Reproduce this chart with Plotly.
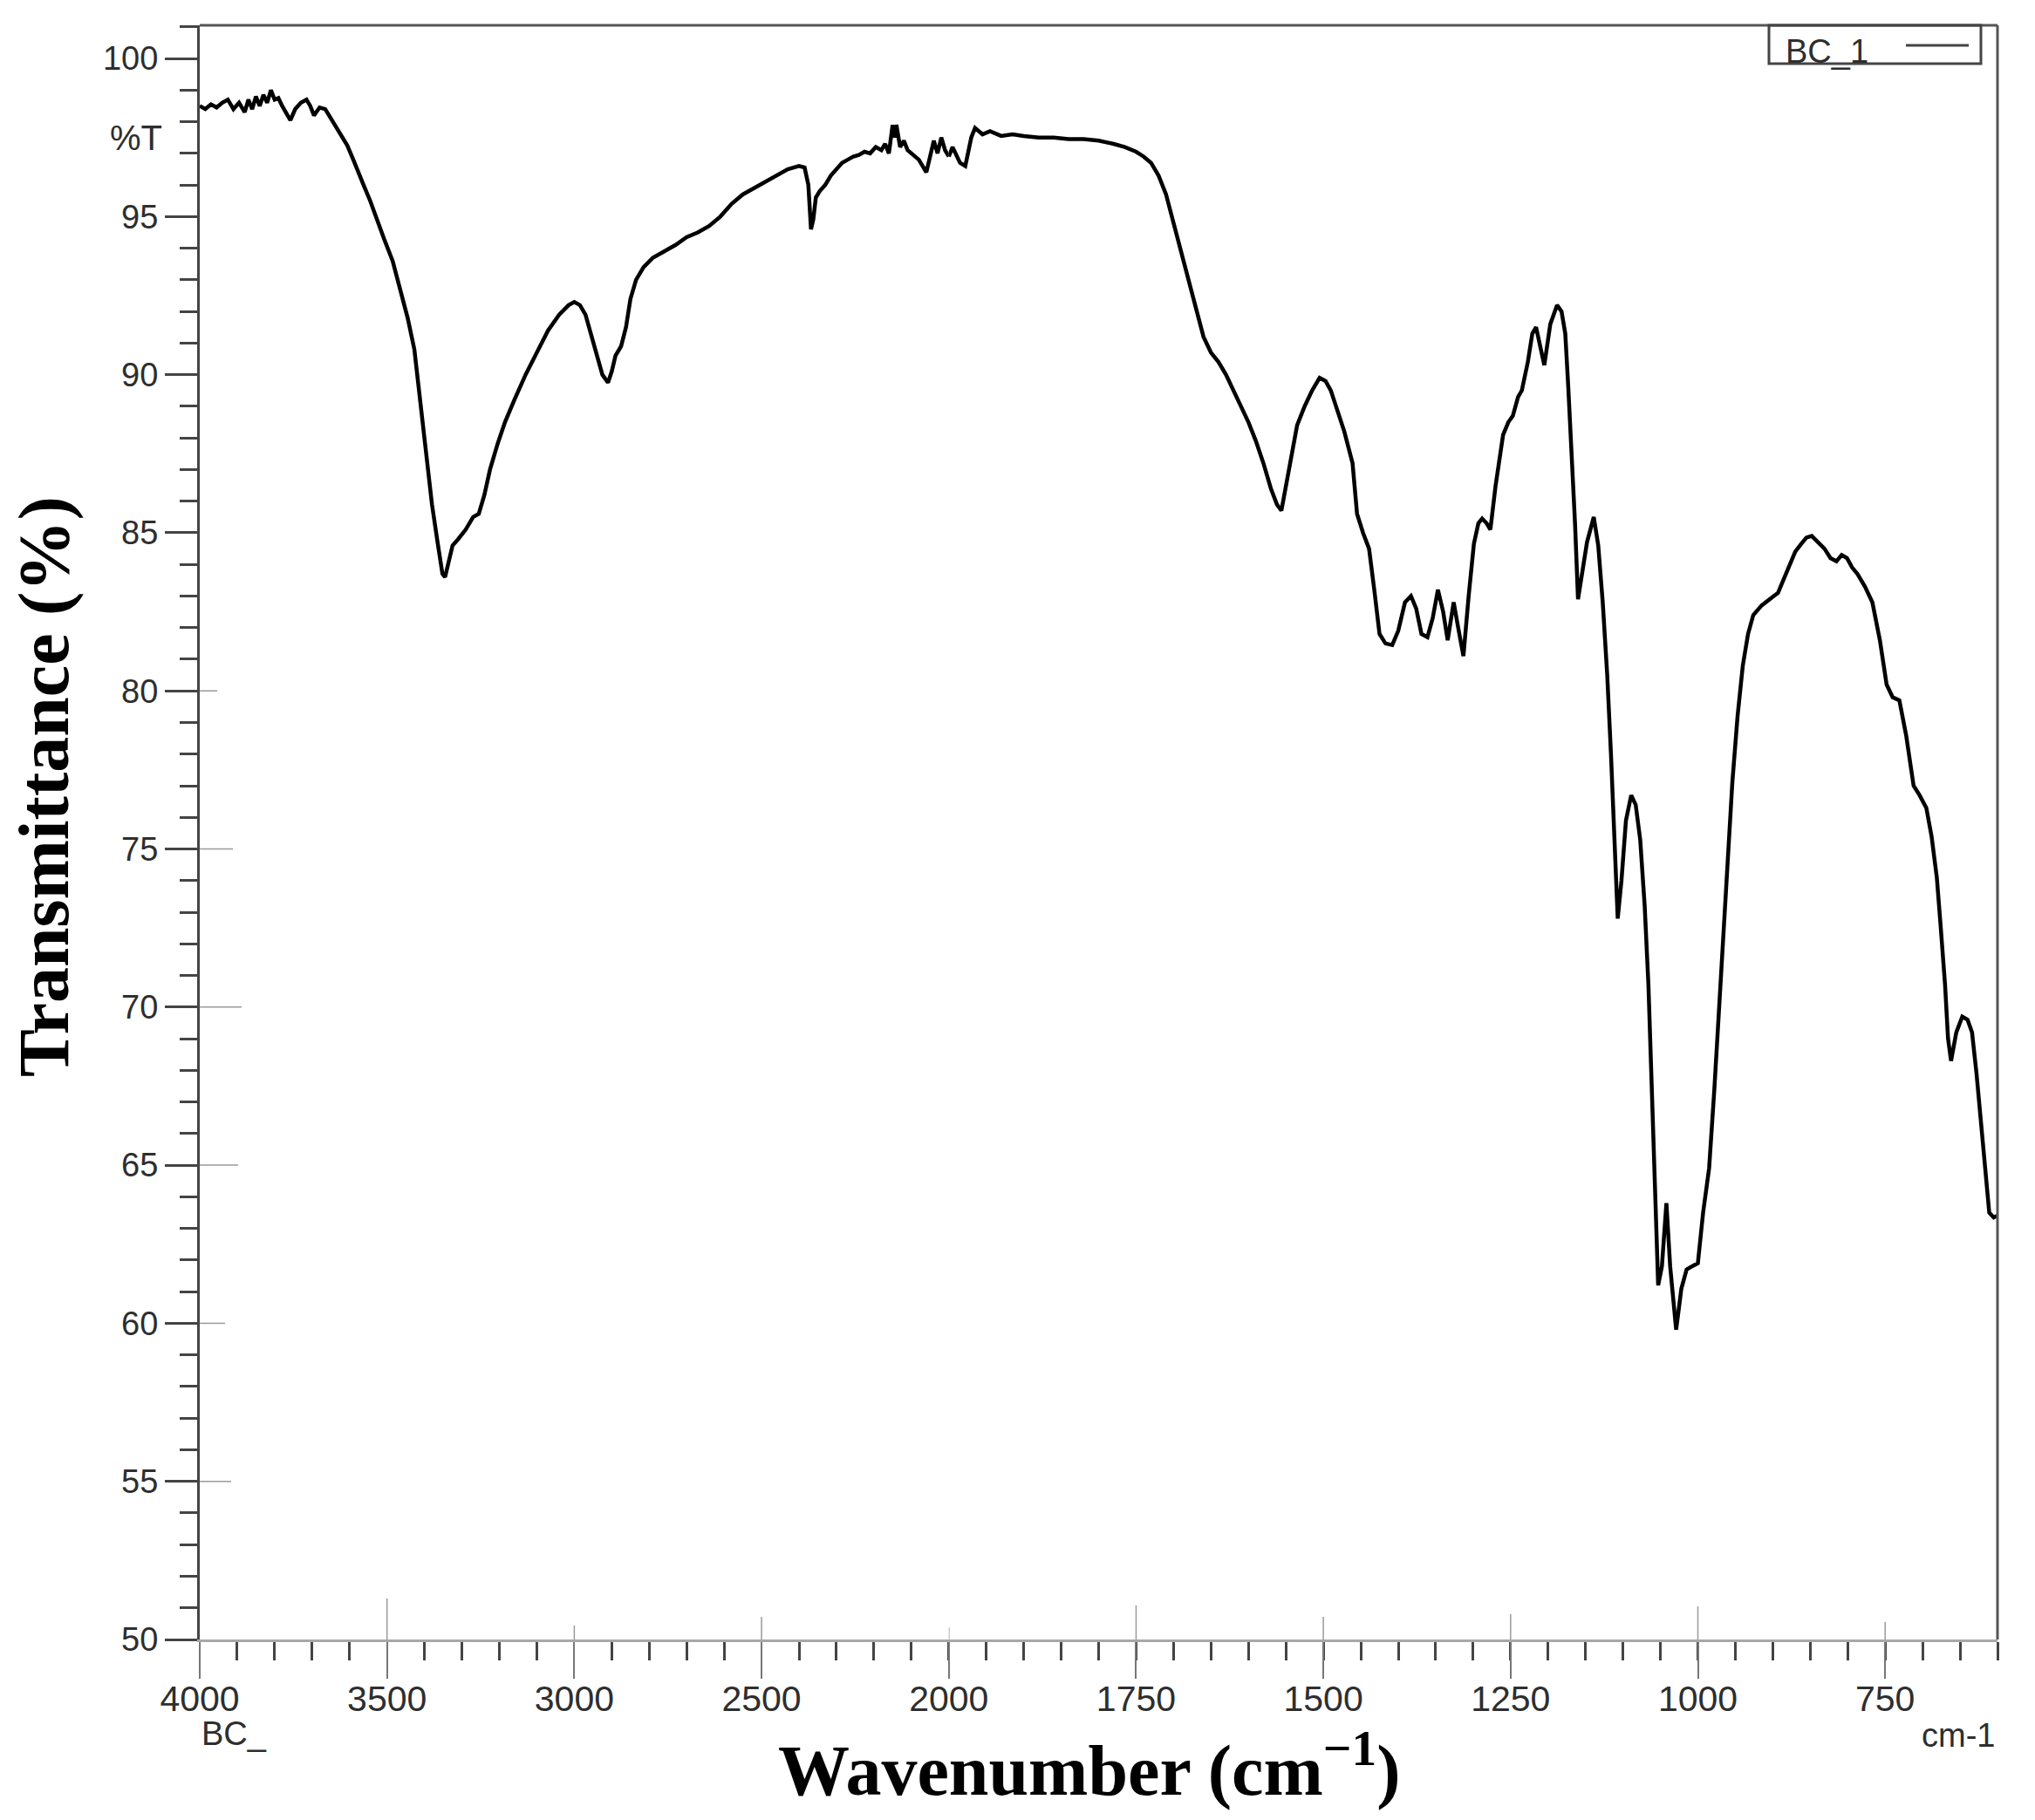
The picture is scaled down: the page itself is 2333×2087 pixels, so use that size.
import plotly.graph_objects as go

# FTIR spectrum of sample BC_1
wavenumber = [
    4000, 3985, 3970, 3955, 3940, 3925, 3910, 3895, 3880, 3870, 3860, 3850, 3840, 3830,
    3820, 3810, 3800, 3790, 3780, 3770, 3758, 3745, 3730, 3715, 3705, 3695, 3680, 3665,
    3650, 3640, 3620, 3606, 3590, 3575, 3561, 3545, 3530, 3508, 3485, 3464, 3445, 3427,
    3410, 3395, 3380, 3365, 3352, 3345, 3338, 3325, 3310, 3290, 3270, 3255, 3240, 3225,
    3205, 3185, 3160, 3130, 3100, 3070, 3040, 3015, 3000, 2985, 2970, 2955, 2940, 2925,
    2910, 2900, 2890, 2875, 2862, 2850, 2835, 2815, 2790, 2760, 2730, 2700, 2670, 2640,
    2610, 2580, 2550, 2520, 2490, 2460, 2430, 2400, 2385, 2375, 2368, 2362, 2355, 2345,
    2330, 2315, 2300, 2285, 2270, 2255, 2240, 2225, 2210, 2195, 2180, 2170, 2160, 2150,
    2145, 2140, 2130, 2120, 2110, 2100, 2090, 2080, 2070, 2060, 2050, 2040, 2030, 2020,
    2010, 2000,
    1995, 1985, 1978, 1970, 1965, 1955, 1945, 1930, 1915, 1900, 1880, 1860, 1840, 1820,
    1800, 1780, 1765, 1750, 1740, 1730, 1720, 1710, 1700, 1690, 1680, 1670, 1660, 1650,
    1640, 1630, 1620, 1610, 1600, 1590, 1580, 1570, 1562, 1556, 1550, 1542, 1535, 1525,
    1515, 1505, 1497, 1490, 1482, 1472, 1461, 1455, 1447, 1439, 1432, 1425, 1417, 1408,
    1400, 1391, 1383, 1376, 1369, 1361, 1354, 1347, 1340, 1334, 1330, 1326, 1320, 1313,
    1306, 1299, 1293, 1288, 1282, 1277, 1270, 1260, 1253, 1247, 1240, 1235, 1227, 1221,
    1216, 1210, 1205, 1197, 1188, 1182, 1177, 1173, 1169, 1164, 1160, 1155, 1148, 1139,
    1133, 1127, 1121, 1116, 1111, 1107, 1102, 1096, 1089, 1083, 1077, 1071, 1066, 1060,
    1053, 1048, 1042, 1037, 1029, 1022, 1015, 1008, 1000, 993, 985, 978, 971, 963,
    954, 947, 940, 933, 926, 915, 904, 893, 886, 879, 870, 862, 855, 848,
    840, 831, 823, 815, 808, 801, 794, 787, 777, 767, 757, 748, 740, 731,
    722, 712, 704, 695, 688, 681, 676, 670, 666, 662, 655, 647, 640, 634,
    628, 623, 617, 611, 605, 600,
]
transmittance = [
    98.5, 98.4, 98.55, 98.45, 98.6, 98.7, 98.4, 98.6, 98.3, 98.7, 98.4, 98.8, 98.5, 98.85,
    98.6, 99.0, 98.7, 98.75, 98.5, 98.3, 98.05, 98.4, 98.6, 98.7, 98.5, 98.2, 98.45, 98.4,
    98.1, 97.95, 97.5, 97.25, 96.8, 96.4, 95.95, 95.5, 95.0, 94.3, 93.6, 92.7, 91.8, 90.8,
    89.0, 87.3, 85.9, 84.7, 83.7, 83.6, 84.0, 84.6, 84.8, 85.1, 85.5, 85.6, 86.2, 87.0,
    87.8, 88.5, 89.2, 90.0, 90.7, 91.4, 91.9, 92.2, 92.3, 92.2, 91.9, 91.3, 90.6, 90.0,
    89.75, 90.1, 90.6, 90.9, 91.5, 92.4, 93.0, 93.4, 93.7, 93.9, 94.1, 94.35, 94.5, 94.7,
    95.0, 95.4, 95.7, 95.9, 96.1, 96.3, 96.5, 96.6, 96.55, 96.0, 94.6, 94.9, 95.6, 95.8,
    96.0, 96.3, 96.5, 96.7, 96.8, 96.9, 96.95, 97.05, 97.0, 97.2, 97.1, 97.3, 97.0, 97.9,
    97.5, 97.9, 97.2, 97.4, 97.1, 97.0, 96.9, 96.8, 96.6, 96.4, 96.9, 97.4, 97.0, 97.5,
    97.1, 96.9,
    97.2, 96.7, 96.6, 97.5, 97.8, 97.6, 97.7, 97.55, 97.6, 97.55, 97.5, 97.5, 97.45, 97.45,
    97.4, 97.3, 97.2, 97.05, 96.9, 96.7, 96.3, 95.7, 94.8, 93.8, 93.0, 92.1, 91.2, 90.7,
    90.4, 90.0, 89.5, 89.0, 88.5, 87.9, 87.2, 86.4, 85.9, 85.7, 86.5, 87.5, 88.4, 89.0,
    89.5, 89.9, 89.8, 89.5, 88.9, 88.2, 87.2, 85.6, 85.0, 84.5, 83.2, 81.8, 81.5, 81.45,
    81.9, 82.8, 83.0, 82.6, 81.8, 81.7, 82.3, 83.2, 82.5, 81.6, 82.2, 82.8, 82.0, 81.1,
    83.0, 84.65, 85.3, 85.45, 85.3, 85.1, 86.5, 88.1, 88.5, 88.7, 89.3, 89.5, 90.4, 91.3,
    91.5, 90.8, 90.3, 91.6, 92.2, 92.0, 91.3, 89.6, 87.9, 85.3, 82.9, 83.6, 84.7, 85.5,
    84.6, 82.8, 80.5, 78.0, 75.3, 72.8, 74.0, 75.9, 76.7, 76.4, 75.3, 73.2, 70.7, 66.0,
    61.2, 61.8, 63.8, 61.8, 59.8, 61.1, 61.7, 61.8, 61.9, 63.5, 64.9, 67.4, 70.2, 73.8,
    77.1, 79.2, 80.8, 81.8, 82.4, 82.7, 82.9, 83.1, 83.5, 83.9, 84.4, 84.65, 84.85, 84.9,
    84.7, 84.5, 84.2, 84.1, 84.3, 84.2, 83.9, 83.7, 83.3, 82.8, 81.6, 80.2, 79.8, 79.7,
    78.6, 77.0, 76.7, 76.3, 75.4, 74.1, 72.6, 70.7, 69.0, 68.3, 69.2, 69.7, 69.6, 69.2,
    67.9, 66.6, 64.9, 63.5, 63.35, 63.4,
]

# the instrument plots 4000-2000 at half the scale of 2000-600
upper_ticks = [4000, 3500, 3000, 2500]
lower_ticks = [2000, 1750, 1500, 1250, 1000, 750]
y_ticks = [50, 55, 60, 65, 70, 75, 80, 85, 90, 95, 100]

# pixels of the plot area
W, H = 2333, 2087
X0, X1, Y0, Y1 = 229, 2290, 29, 1880
split = 2000 / 4800

up_x = [w for w in wavenumber if w >= 2000]
up_y = [t for w, t in zip(wavenumber, transmittance) if w >= 2000]
lo_x = [w for w in wavenumber if w <= 2000]
lo_y = [t for w, t in zip(wavenumber, transmittance) if w <= 2000]

line = dict(color="black", width=4.5)
fig = go.Figure()
fig.add_trace(go.Scatter(x=up_x, y=up_y, mode="lines", line=line, name="BC_1",
                         xaxis="x", yaxis="y", showlegend=False))
fig.add_trace(go.Scatter(x=lo_x, y=lo_y, mode="lines", line=line, name="BC_1",
                         xaxis="x2", yaxis="y", showlegend=False))

tickfont = dict(family="Liberation Sans", size=38, color="#2e2e2e")
xtickfont = dict(tickfont, size=41)
minor_style = dict(ticks="outside", ticklen=21, tickwidth=3, tickcolor="#444444")
xcommon = dict(
    showgrid=False, zeroline=False, showline=True, linecolor="#a8a8a8", linewidth=3,
    ticks="outside", ticklen=42, tickwidth=2, tickcolor="#777777",
    tickfont=xtickfont, ticklabelstandoff=-12, anchor="y", tickmode="array",
)
fig.update_layout(
    width=W, height=H,
    margin=dict(l=X0, r=W - X1, t=Y0, b=H - Y1),
    plot_bgcolor="white", paper_bgcolor="white",
    xaxis=dict(domain=[0, split], range=[4000, 2000],
               tickvals=upper_ticks, ticktext=[str(v) for v in upper_ticks],
               minor=dict(tickmode="array",
                          tickvals=[v for v in range(3900, 2000, -100) if v % 500],
                          **minor_style),
               **xcommon),
    xaxis2=dict(domain=[split, 1], range=[2000, 600],
                tickvals=lower_ticks, ticktext=[str(v) for v in lower_ticks],
                minor=dict(tickmode="linear", tick0=0, dtick=50, **minor_style),
                **xcommon),
    yaxis=dict(domain=[0, 1], range=[50, 101.05], anchor="x",
               showgrid=False, zeroline=False, showline=True, linecolor="#444444", linewidth=3,
               tickmode="array", tickvals=y_ticks, ticks="outside", ticklen=37,
               tickwidth=3, tickcolor="#444444", tickfont=tickfont,
               minor=dict(tickmode="linear", tick0=0, dtick=1, ticks="outside",
                          ticklen=20, tickwidth=3, tickcolor="#444444")),
)


def px(x):
    return (x - X0) / (X1 - X0)


def py(y):
    return (Y1 - y) / (Y1 - Y0)


shapes = []
# top and right frame
shapes.append(dict(type="line", xref="paper", yref="paper", x0=0, x1=1, y0=1, y1=1,
                   line=dict(color="#555555", width=3)))
shapes.append(dict(type="line", xref="paper", yref="paper", x0=1, x1=1, y0=0, y1=1,
                   line=dict(color="#555555", width=3)))
# faint inner extensions of the major ticks
faint = dict(color="#9a9a9a", width=1.5)
inner_x = {("x", 3500): 47, ("x", 3000): 16, ("x", 2500): 26, ("x2", 2000): 14,
           ("x2", 1750): 39, ("x2", 1500): 26, ("x2", 1250): 29, ("x2", 1000): 38,
           ("x2", 750): 20}
for (ax, v), ln in inner_x.items():
    shapes.append(dict(type="line", xref=ax, yref="y", x0=v, x1=v, ysizemode="pixel",
                       yanchor=50, y0=0, y1=ln, line=faint))
inner_y = {80: 20, 75: 38, 70: 48, 65: 44, 60: 29, 55: 36}
for v, ln in inner_y.items():
    shapes.append(dict(type="line", xref="x", yref="y", y0=v, y1=v, xsizemode="pixel",
                       xanchor=4000, x0=0, x1=ln, line=faint))
# legend box
shapes.append(dict(type="rect", xref="paper", yref="paper", x0=px(2028), x1=px(2271),
                   y0=py(73), y1=py(29), line=dict(color="#444444", width=3)))
shapes.append(dict(type="line", xref="paper", yref="paper", x0=px(2185), x1=px(2257),
                   y0=py(52), y1=py(52), line=dict(color="#444444", width=3)))
fig.update_layout(shapes=shapes)

small = dict(family="Liberation Sans", size=38, color="#2e2e2e")
serif = dict(family="Liberation Serif", size=82, color="black", weight="bold")
annotations = [
    dict(text="BC_1", xref="paper", yref="paper", x=px(2045), y=py(59), xanchor="left",
         yanchor="middle", showarrow=False, font=small),
    dict(text="%T", xref="paper", yref="paper", x=px(188), y=py(158), xanchor="right",
         yanchor="middle", showarrow=False, font=dict(small, size=40)),
    dict(text="BC_", xref="paper", yref="paper", x=px(229), y=py(1988), xanchor="left",
         yanchor="middle", showarrow=False, font=small),
    dict(text="cm-1", xref="paper", yref="paper", x=px(2289), y=py(1990), xanchor="right",
         yanchor="middle", showarrow=False, font=small),
    dict(text="Wavenumber (cm<sup>\u22121</sup>)", xref="paper", yref="paper", x=px(1249),
         y=py(2078), xanchor="center", yanchor="bottom", showarrow=False, font=serif),
    dict(text="Transmittance (%)", xref="paper", yref="paper", x=px(50), y=py(902),
         xanchor="center", yanchor="middle", textangle=-90, showarrow=False,
         font=dict(serif, size=82)),
]
fig.update_layout(annotations=annotations)

# drop the default 8px page margin so the figure fills the window exactly
fig.write_html("out.html", config={"displayModeBar": False},
               post_script="document.body.style.margin='0';")
